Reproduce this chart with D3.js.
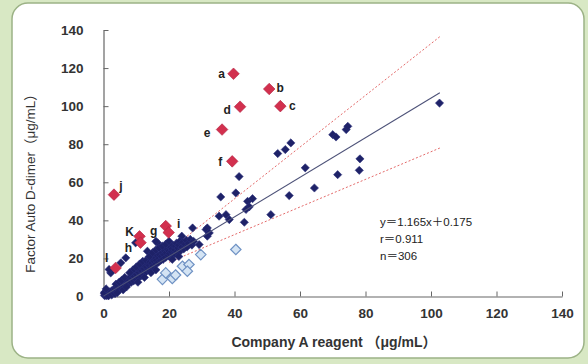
<!DOCTYPE html>
<html><head><meta charset="utf-8">
<script src="https://cdn.jsdelivr.net/npm/d3@7"></script>
<style>
html,body{margin:0;padding:0;background:#d8e8c4;}
svg{display:block;}
</style></head>
<body>
<svg id="chart" width="588" height="364"></svg>
<script>
// ---------- DATA ----------
const xTicks = [0, 20, 40, 60, 80, 100, 120, 140];
const yTicks = [0, 20, 40, 60, 80, 100, 120, 140];

// Outlier (discordant) samples, red diamonds
const redLabels = ["a","b","c","d","e","f","j","i","g","K","h","l"];
const redX = [39.7, 50.6, 54.0, 41.7, 36.2, 39.3, 3.2, 19.0, 19.9, 11.0, 11.3, 3.7];
const redY = [117, 109, 100, 99.7, 87.7, 71, 53.5, 37, 33.6, 31.6, 28.3, 15];

// Light-blue hollow diamonds
const lightX = [18, 19, 21, 22, 24.1, 26.1, 25.6, 29.7, 40.4];
const lightY = [9, 12.4, 9.5, 11.3, 15.9, 16.8, 13.3, 22, 24.7];

// Navy diamonds (main sample set)
const navyX = [102.6, 53.2, 55.5, 57.2, 70, 71, 74.1, 74.6, 41.4, 61.6, 71.5, 78.3, 78.1, 64.4, 56.7,
  35.8, 40.4, 44, 45.5, 44.5, 43.5, 51.1, 35.3, 37.4, 38.4, 43, 27.2, 31.7, 31.3, 32.3, 31.7, 29.2,
  16.5, 13.4, 2.2, 1.7, 23.9, 5.3, 6.8, 9.8, 16,
  0.3, 0.5, 0.8, 1, 1.2, 1.5, 1.8, 2, 2.2, 2.5, 2.8, 3, 3.2, 0.5, 1, 0.2, 1.5, 2.5, 3.5, 0.8,
  3.5, 4, 4, 4.5, 5, 5, 5.5, 5.8, 6, 6.2, 6.5, 6.8, 7, 7.2, 7.5, 7.8, 8, 3.8, 4.8, 5.5, 6.5, 4.2, 6, 7,
  8.2, 8.5, 8.8, 9, 9.2, 9.5, 9.8, 10, 10.2, 10.5, 10.8, 11, 11.2, 11.5, 11.8, 12, 12.2, 12.5, 12.8, 13, 13.2, 13.5, 13.8, 14, 9, 10, 11, 12, 8, 13, 10.5, 12.5,
  14.2, 14.5, 14.8, 15, 15.2, 15.5, 15.8, 16, 16.2, 16.5, 16.8, 17, 17.2, 17.5, 17.8, 18, 18.2, 18.5, 18.8, 19, 19.2, 19.5, 19.8, 20, 14, 15, 16, 17, 18, 14.5, 16,
  20.2, 20.5, 20.8, 21, 21.2, 21.5, 21.8, 22, 22.3, 22.5, 22.8, 23, 23.3, 23.5, 24, 24.2, 24.5, 25, 25.3, 25.5, 26, 26.5, 27, 27.5, 21, 23, 19, 20];
const navyY = [101.6, 75.1, 77.2, 80.7, 85, 83.8, 87.7, 89.4, 63, 67.6, 64, 72.3, 66.3, 57, 53,
  52.3, 54.4, 50, 51.4, 47.1, 45.7, 43, 42.2, 43, 40.4, 39, 36, 36, 35.2, 33.4, 31.7, 27.3,
  28.2, 23.8, 12.4, 14.2, 31.7, 17.7, 20.3, 28.2, 29,
  0.5, 1, 0.4, 1.5, 0.8, 2, 1.2, 2.5, 1.5, 3, 2, 3.5, 2.5, 2.5, 3, 1.8, 0.3, 0.8, 1.5, 4,
  4, 3, 5, 4.2, 5.5, 3.8, 6, 4.5, 6.8, 5.2, 7.5, 5.8, 8, 6.5, 9, 7, 8.5, 6.5, 7.5, 8.5, 10, 2, 3.5, 5,
  10, 7.5, 9.5, 11, 8.2, 10.5, 12, 9, 11.5, 13, 10, 12.5, 14, 11, 13.5, 15, 12, 14.5, 16, 13, 15.5, 17, 14, 16.5, 14, 15.5, 17, 18.5, 12.5, 19, 7.5, 10,
  18, 15, 17.5, 19.5, 16, 18.5, 20.5, 17, 19, 21.5, 18, 20, 22, 19, 21, 23, 19.5, 22, 24, 20.5, 23, 25, 21.5, 24, 21, 23, 24.5, 25.5, 26.5, 12.5, 14,
  22.5, 26, 23.5, 25, 27, 22, 24.5, 26.5, 28, 23.5, 25.5, 27, 29, 24, 26, 28.5, 25, 27.5, 29.5, 26, 28, 30, 27, 29, 19.5, 21, 27.5, 29];

// Regression line and limit lines (end points as drawn)
const fitX = [0, 102.7], fitY = [0.2, 107];
const upperX = [14, 102.7], upperY = [16, 136.5];
const lowerX = [20, 102.7], lowerY = [18, 78];

const statLines = ["y＝1.165x＋0.175", "r＝0.911", "n＝306"];
const xTitle = "Company A reagent （μg/mL）";
const yTitle = "Factor Auto D-dimer（μg/mL）";

// ---------- LAYOUT ----------
const svg = d3.select("#chart");
svg.append("rect").attr("x", 12).attr("y", 3).attr("width", 572).attr("height", 355)
  .attr("rx", 16).attr("fill", "#ffffff").attr("stroke", "#9cb286").attr("stroke-width", 1.5);

const x = d3.scaleLinear().domain([0, 140]).range([103.5, 562]);
const y = d3.scaleLinear().domain([0, 140]).range([296.5, 30]);
const font = "'Liberation Sans', Arial, 'Noto Sans CJK JP', sans-serif";

// axes
const xAxis = svg.append("g").attr("transform", `translate(0,${y(0)})`)
  .call(d3.axisBottom(x).tickValues(xTicks).tickSizeInner(-5).tickSizeOuter(0).tickPadding(12));
const yAxis = svg.append("g").attr("transform", `translate(${x(0)},0)`)
  .call(d3.axisLeft(y).tickValues(yTicks).tickSizeInner(-5).tickSizeOuter(0).tickPadding(20));
[xAxis, yAxis].forEach(g => {
  g.select(".domain").attr("stroke", "#666").attr("stroke-width", 1.2);
  g.selectAll(".tick line").attr("stroke", "#666");
  g.selectAll("text").attr("font-family", font).attr("font-size", 13.5)
    .attr("font-weight", "bold").attr("fill", "#333");
});
xAxis.select(".tick:first-of-type line").remove();
yAxis.select(".tick:first-of-type line").remove();

// lines
const line = d3.line().x(d => x(d[0])).y(d => y(d[1]));
const pts = (xs, ys) => xs.map((v, i) => [v, ys[i]]);
svg.append("path").datum(pts(upperX, upperY)).attr("d", line)
  .attr("stroke", "#e46a6a").attr("stroke-width", 1).attr("stroke-dasharray", "2,2").attr("fill", "none");
svg.append("path").datum(pts(lowerX, lowerY)).attr("d", line)
  .attr("stroke", "#e46a6a").attr("stroke-width", 1).attr("stroke-dasharray", "2,2").attr("fill", "none");

// diamonds
const diamond = r => `M0,${-r}L${r},0L0,${r}L${-r},0Z`;
svg.append("g").selectAll("path").data(pts(navyX, navyY)).join("path")
  .attr("d", diamond(4.1)).attr("transform", d => `translate(${x(d[0])},${y(d[1])})`)
  .attr("fill", "#1e2268").attr("stroke", "#2a2f7a").attr("stroke-width", 0.6);

svg.append("path").datum(pts(fitX, fitY)).attr("d", line)
  .attr("stroke", "#4d5278").attr("stroke-width", 1.1).attr("fill", "none");

svg.append("g").selectAll("path").data(pts(lightX, lightY)).join("path")
  .attr("d", diamond(5.2)).attr("transform", d => `translate(${x(d[0])},${y(d[1])})`)
  .attr("fill", "#d4e4f4").attr("stroke", "#6f92c4").attr("stroke-width", 1.2);

const reds = redLabels.map((l, i) => ({l, x: redX[i], y: redY[i]}));
svg.append("g").selectAll("path").data(reds).join("path")
  .attr("d", diamond(5.8)).attr("transform", d => `translate(${x(d.x)},${y(d.y)})`)
  .attr("fill", "#d2304e").attr("stroke", "#b02040").attr("stroke-width", 0.6);

// label offsets (style)
const off = {a:[-12,0], b:[11,-1], c:[12,0], d:[-13,3], e:[-15,3], f:[-12,1], j:[7,-9],
  i:[13,-2], g:[-15,-2], K:[-10,-4], h:[-12,5], l:[-9,-10]};
svg.append("g").selectAll("text").data(reds).join("text")
  .attr("x", d => x(d.x) + off[d.l][0]).attr("y", d => y(d.y) + off[d.l][1])
  .attr("text-anchor", "middle").attr("dominant-baseline", "central")
  .attr("font-family", font).attr("font-size", 12).attr("font-weight", "bold").attr("fill", "#222")
  .text(d => d.l);

// stats
svg.append("g").selectAll("text").data(statLines).join("text")
  .attr("x", 380).attr("y", (d, i) => 222 + i * 17).attr("dominant-baseline", "central")
  .attr("font-family", font).attr("font-size", 11.5).attr("fill", "#222").text(d => d);

// titles
svg.append("text").attr("x", 334).attr("y", 342).attr("text-anchor", "middle")
  .attr("dominant-baseline", "central").attr("font-family", font).attr("font-size", 14)
  .attr("font-weight", "bold").attr("fill", "#333").text(xTitle);
svg.append("text").attr("transform", "translate(30,180) rotate(-90)").attr("text-anchor", "middle")
  .attr("dominant-baseline", "central").attr("font-family", font).attr("font-size", 13.5)
  .attr("fill", "#333").text(yTitle);
</script>
</body></html>
